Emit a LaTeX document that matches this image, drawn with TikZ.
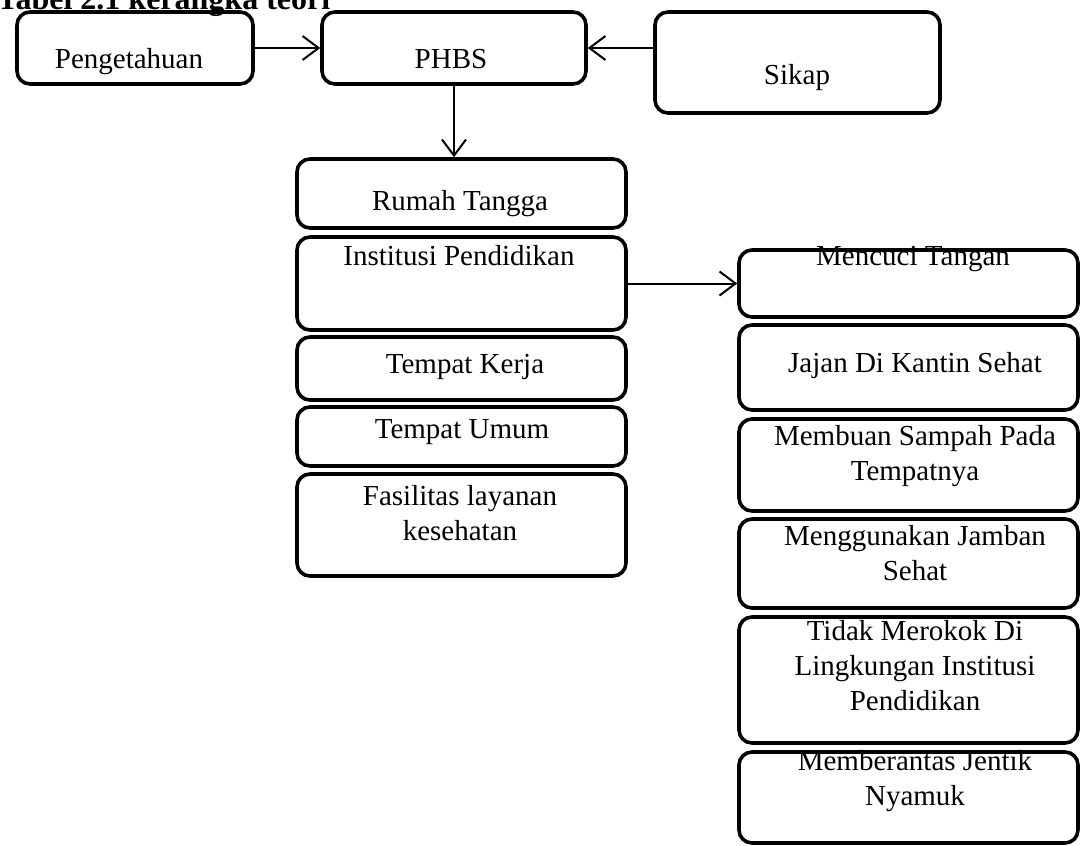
\documentclass[tikz,border=0pt]{standalone}
\usepackage{fontspec}
\setmainfont{Liberation Serif}
\usetikzlibrary{arrows.meta}

\tikzset{
  kotak/.style={draw, line width=3.6pt, rounded corners=13pt, inner sep=0pt},
  teks/.style={font=\fontsize{29}{35}\selectfont, inner sep=0pt, anchor=base, align=center},
  panah/.style={-{Straight Barb[length=16pt,width=24pt]}, line width=2pt}
}

\begin{document}
\begin{tikzpicture}[x=1pt,y=-1pt]
   \useasboundingbox (0,0) rectangle (1082,846) ;
   % judul
   \node[font=\fontsize{32}{38}\selectfont\bfseries, inner sep=0pt, anchor=base west] (judul) at (-3,9) {Tabel 2.1 kerangka teori} ;

   % baris atas
   \node[kotak, minimum width=236pt, minimum height=72pt] (peng) at (135,48) {} ;
   \node[kotak, minimum width=264pt, minimum height=72pt] (phbs) at (454,48) {} ;
   \node[kotak, minimum width=285pt, minimum height=101pt] (sikap) at (797.5,62.5) {} ;
   \node[teks] (t-peng) at (129,68) {Pengetahuan} ;
   \node[teks] (t-phbs) at (451,68) {PHBS} ;
   \node[teks] (t-sikap) at (797,84) {Sikap} ;

   % tatanan PHBS
   \node[kotak, minimum width=329pt, minimum height=69pt] (rumah) at (461.5,193.5) {} ;
   \node[kotak, minimum width=329pt, minimum height=93pt] (inst) at (461.5,283.5) {} ;
   \node[kotak, minimum width=329pt, minimum height=63pt] (kerja) at (461.5,368.5) {} ;
   \node[kotak, minimum width=329pt, minimum height=59pt] (umum) at (461.5,436.5) {} ;
   \node[kotak, minimum width=329pt, minimum height=102pt] (fasil) at (461.5,525) {} ;
   \node[teks] (t-rumah) at (460,210) {Rumah Tangga} ;
   \node[teks] (t-inst) at (459,265) {Institusi Pendidikan} ;
   \node[teks] (t-kerja) at (465,373) {Tempat Kerja} ;
   \node[teks] (t-umum) at (462,438) {Tempat Umum} ;
   \node[teks] (t-fasil) at (460,540) {Fasilitas layanan\\kesehatan} ;

   % indikator institusi pendidikan
   \node[kotak, minimum width=339pt, minimum height=67pt] (cuci) at (908.5,283.5) {} ;
   \node[kotak, minimum width=339pt, minimum height=85pt] (jajan) at (908.5,367.5) {} ;
   \node[kotak, minimum width=339pt, minimum height=92pt] (buang) at (908.5,465) {} ;
   \node[kotak, minimum width=339pt, minimum height=89pt] (jamban) at (908.5,563.5) {} ;
   \node[kotak, minimum width=339pt, minimum height=126pt] (rokok) at (908.5,680) {} ;
   \node[kotak, minimum width=339pt, minimum height=91pt] (jentik) at (908.5,797.5) {} ;
   \node[teks] (t-cuci) at (913,265) {Mencuci Tangan} ;
   \node[teks] (t-jajan) at (915,372) {Jajan Di Kantin Sehat} ;
   \node[teks] (t-buang) at (915,480) {Membuan Sampah Pada\\Tempatnya} ;
   \node[teks] (t-jamban) at (915,580) {Menggunakan Jamban\\Sehat} ;
   \node[teks] (t-rokok) at (915,710) {Tidak Merokok Di\\Lingkungan Institusi\\Pendidikan} ;
   \node[teks] (t-jentik) at (915,805) {Memberantas Jentik\\Nyamuk} ;

   % panah
   \draw[panah] (peng.east) -- (phbs.west) ;
   \draw[panah] (sikap.west |- phbs.east) -- (phbs.east) ;
   \draw[panah] (phbs.south) -- (phbs.south |- rumah.north) ;
   \draw[panah] (inst.east) -- (cuci.west) ;
\end{tikzpicture}
\end{document}
